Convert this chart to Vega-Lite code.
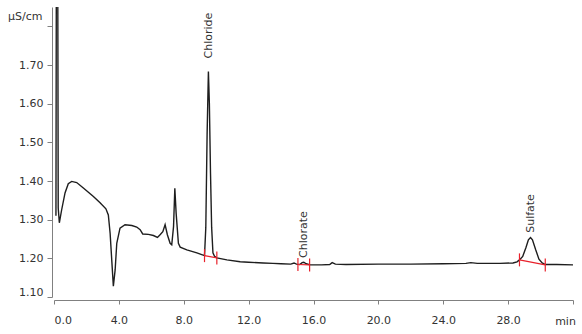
{
  "$schema": "https://vega.github.io/schema/vega-lite/v6.json",
  "width": 519,
  "height": 290,
  "autosize": {"type": "none"},
  "padding": {"left": 54, "top": 7, "right": 9, "bottom": 37},
  "background": "white",
  "config": {
    "view": {"stroke": null},
    "font": "DejaVu Sans",
    "axis": {
      "grid": false,
      "domainColor": "#808080",
      "tickColor": "#808080",
      "labelColor": "#333333",
      "labelFontSize": 11,
      "titleColor": "#333333",
      "titleFontSize": 11,
      "titleFontWeight": "normal"
    }
  },
  "datasets": {
    "trace": [
      {"t": 0.12, "v": 1.31},
      {"t": 0.17, "v": 2.6},
      {"t": 0.2, "v": 2.6},
      {"t": 0.26, "v": 1.33},
      {"t": 0.33, "v": 1.292},
      {"t": 0.47, "v": 1.325},
      {"t": 0.68, "v": 1.369},
      {"t": 0.88, "v": 1.393},
      {"t": 1.09, "v": 1.399},
      {"t": 1.4, "v": 1.396},
      {"t": 1.81, "v": 1.382},
      {"t": 2.43, "v": 1.36},
      {"t": 2.84, "v": 1.344},
      {"t": 3.2, "v": 1.328},
      {"t": 3.35, "v": 1.312},
      {"t": 3.46, "v": 1.265},
      {"t": 3.56, "v": 1.196},
      {"t": 3.66, "v": 1.128},
      {"t": 3.77, "v": 1.17},
      {"t": 3.87, "v": 1.239},
      {"t": 4.07, "v": 1.278},
      {"t": 4.38, "v": 1.287},
      {"t": 4.8, "v": 1.285},
      {"t": 5.1, "v": 1.281},
      {"t": 5.31, "v": 1.274},
      {"t": 5.47, "v": 1.263},
      {"t": 5.82, "v": 1.262},
      {"t": 6.13, "v": 1.259},
      {"t": 6.38, "v": 1.254},
      {"t": 6.54, "v": 1.261},
      {"t": 6.71, "v": 1.269},
      {"t": 6.85, "v": 1.287},
      {"t": 6.99, "v": 1.261},
      {"t": 7.16, "v": 1.239},
      {"t": 7.26, "v": 1.235},
      {"t": 7.37, "v": 1.282},
      {"t": 7.45, "v": 1.381},
      {"t": 7.53, "v": 1.317},
      {"t": 7.67, "v": 1.239},
      {"t": 7.78, "v": 1.229},
      {"t": 8.19, "v": 1.222},
      {"t": 8.81, "v": 1.214},
      {"t": 9.28, "v": 1.207},
      {"t": 9.36, "v": 1.28},
      {"t": 9.44, "v": 1.52},
      {"t": 9.52, "v": 1.683},
      {"t": 9.58, "v": 1.6},
      {"t": 9.65, "v": 1.42},
      {"t": 9.72, "v": 1.28},
      {"t": 9.8, "v": 1.214},
      {"t": 9.9, "v": 1.205},
      {"t": 10.04, "v": 1.201},
      {"t": 10.66, "v": 1.196},
      {"t": 11.48, "v": 1.191},
      {"t": 12.0, "v": 1.19},
      {"t": 12.9, "v": 1.188},
      {"t": 13.5, "v": 1.187},
      {"t": 14.0, "v": 1.186},
      {"t": 14.6, "v": 1.185},
      {"t": 14.8, "v": 1.188},
      {"t": 14.95, "v": 1.185},
      {"t": 15.15, "v": 1.184},
      {"t": 15.3, "v": 1.189},
      {"t": 15.4, "v": 1.19},
      {"t": 15.55, "v": 1.186},
      {"t": 15.8, "v": 1.183},
      {"t": 16.5, "v": 1.183},
      {"t": 17.0, "v": 1.184},
      {"t": 17.15, "v": 1.189},
      {"t": 17.35, "v": 1.185},
      {"t": 18.0, "v": 1.184},
      {"t": 20.0, "v": 1.185},
      {"t": 22.0, "v": 1.185},
      {"t": 24.0, "v": 1.186},
      {"t": 25.4, "v": 1.187},
      {"t": 25.7, "v": 1.189},
      {"t": 26.1, "v": 1.187},
      {"t": 27.5, "v": 1.187},
      {"t": 28.3, "v": 1.188},
      {"t": 28.55, "v": 1.191},
      {"t": 28.7, "v": 1.196},
      {"t": 28.9, "v": 1.205},
      {"t": 29.1, "v": 1.228},
      {"t": 29.25, "v": 1.248},
      {"t": 29.38, "v": 1.254},
      {"t": 29.5, "v": 1.248},
      {"t": 29.7, "v": 1.222},
      {"t": 29.9, "v": 1.198},
      {"t": 30.1, "v": 1.188},
      {"t": 30.3, "v": 1.184},
      {"t": 31.0, "v": 1.184},
      {"t": 32.0, "v": 1.183}
    ],
    "markers": [
      {"peak": "Chloride", "t": 9.28, "v": 1.207},
      {"peak": "Chloride", "t": 10.04, "v": 1.201},
      {"peak": "Chlorate", "t": 15.04, "v": 1.184},
      {"peak": "Chlorate", "t": 15.76, "v": 1.183},
      {"peak": "Sulfate", "t": 28.7, "v": 1.196},
      {"peak": "Sulfate", "t": 30.29, "v": 1.183}
    ],
    "labels": [
      {"name": "Chloride", "t": 9.57, "v": 1.717},
      {"name": "Chlorate", "t": 15.4, "v": 1.201},
      {"name": "Sulfate", "t": 29.44, "v": 1.266}
    ]
  },
  "encoding": {
    "x": {
      "field": "t",
      "type": "quantitative",
      "scale": {"domain": [0, 32], "nice": false, "zero": false},
      "axis": {
        "offset": 3,
        "values": [0, 4, 8, 12, 16, 20, 24, 28, 32],
        "labelExpr": "datum.value >= 32 ? '' : format(datum.value, '.1f')",
        "tickSize": 4,
        "labelPadding": 10,
        "title": "min",
        "titleX": 511,
        "titleY": 21,
        "titleAlign": "center",
        "titleBaseline": "middle"
      }
    },
    "y": {
      "field": "v",
      "type": "quantitative",
      "scale": {"domain": [1.1, 1.85], "nice": false, "zero": false},
      "axis": {
        "offset": 2,
        "values": [1.1, 1.2, 1.3, 1.4, 1.5, 1.6, 1.7, 1.8],
        "labelExpr": "datum.value > 1.75 ? '' : format(datum.value, '.2f')",
        "labelFlush": true,
        "tickSize": 5,
        "labelPadding": 4,
        "title": "µS/cm",
        "titleAngle": 0,
        "titleX": -10,
        "titleY": 9,
        "titleAlign": "right",
        "titleBaseline": "middle"
      }
    }
  },
  "layer": [
    {
      "data": {"name": "trace"},
      "mark": {"type": "line", "color": "#1e1e1e", "strokeWidth": 1.4, "clip": true}
    },
    {
      "data": {"name": "markers"},
      "mark": {"type": "line", "color": "#e8212b", "strokeWidth": 1.2},
      "encoding": {"detail": {"field": "peak"}}
    },
    {
      "data": {"name": "markers"},
      "mark": {"type": "tick", "orient": "vertical", "color": "#e8212b", "size": 13, "thickness": 1.2, "opacity": 1}
    },
    {
      "data": {"name": "labels"},
      "mark": {"type": "text", "angle": 270, "align": "left", "baseline": "middle", "fontSize": 11, "color": "#333333", "font": "DejaVu Sans"},
      "encoding": {"text": {"field": "name"}}
    }
  ]
}
